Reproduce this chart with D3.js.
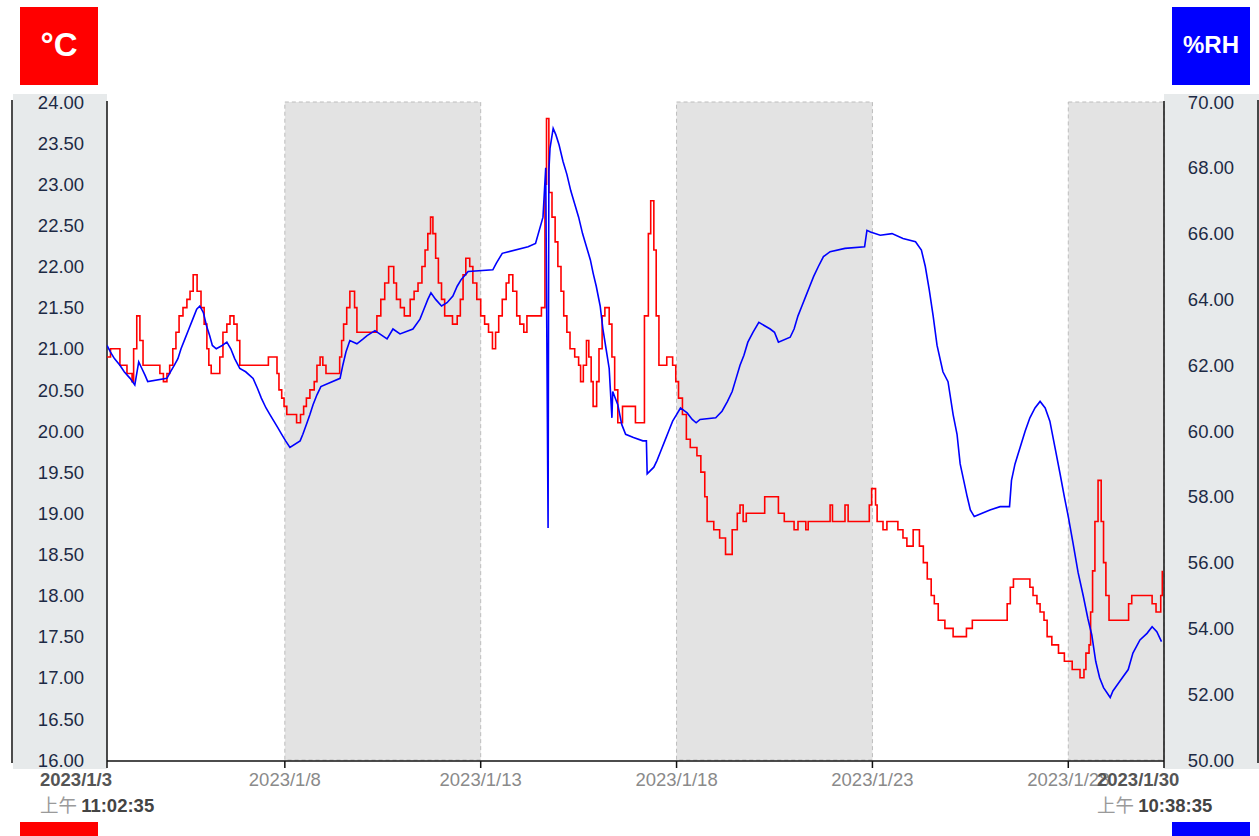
<!DOCTYPE html>
<html lang="zh">
<head>
<meta charset="UTF-8">
<title>Temperature / Humidity</title>
<script src="https://d3js.org/d3.v7.min.js"></script>
<style>
  body { margin: 0; background: #fff; }
  svg { display: block; font-family: Arial, "Liberation Sans", sans-serif; }
</style>
</head>
<body>
<svg id="chart"></svg>
<script>
// day-of-January (decimal) for each reading, and the reading
const tempDays = [3.46, 3.55, 3.79, 3.97, 4.10, 4.14, 4.22, 4.30, 4.38, 4.81, 4.90, 4.99, 5.06,
  5.14, 5.22, 5.30, 5.40, 5.50, 5.58, 5.66, 5.76, 5.86, 5.94, 6.01, 6.06, 6.12, 6.34, 6.42, 6.52,
  6.60, 6.70, 6.78, 6.85, 7.58, 7.80, 7.85, 7.92, 7.98, 8.05, 8.30, 8.40, 8.48, 8.55, 8.64, 8.75,
  8.82, 8.90, 8.97, 9.05, 9.40, 9.45, 9.50, 9.58, 9.66, 9.78, 9.84, 10.35, 10.45, 10.55, 10.65,
  10.78, 10.85, 10.95, 11.05, 11.20, 11.30, 11.40, 11.50, 11.58, 11.65, 11.72, 11.78, 11.85, 11.92,
  12.00, 12.08, 12.28, 12.40, 12.48, 12.55, 12.62, 12.72, 12.80, 12.90, 13.00, 13.10, 13.20, 13.30,
  13.38, 13.46, 13.55, 13.65, 13.72, 13.82, 13.92, 14.00, 14.10, 14.18, 14.55, 14.64, 14.68, 14.74,
  14.82, 14.90, 14.97, 15.05, 15.12, 15.20, 15.28, 15.40, 15.50, 15.55, 15.62, 15.70, 15.76, 15.82,
  15.87, 15.96, 16.02, 16.10, 16.17, 16.28, 16.35, 16.42, 16.50, 16.62, 16.95, 17.18, 17.28, 17.34,
  17.42, 17.48, 17.55, 17.75, 17.90, 17.98, 18.05, 18.15, 18.25, 18.35, 18.52, 18.62, 18.72, 18.78,
  18.95, 19.10, 19.25, 19.42, 19.55, 19.62, 19.70, 19.78, 20.25, 20.60, 20.75, 21.00, 21.10, 21.30,
  21.36, 21.92, 21.98, 22.30, 22.38, 22.92, 22.98, 23.08, 23.12, 23.27, 23.37, 23.65, 23.78, 23.88,
  24.04, 24.20, 24.30, 24.40, 24.50, 24.58, 24.68, 24.85, 25.06, 25.40, 25.55, 26.44, 26.52, 26.60,
  27.02, 27.10, 27.20, 27.28, 27.38, 27.46, 27.58, 27.75, 27.90, 28.10, 28.30, 28.40, 28.45, 28.53,
  28.57, 28.62, 28.68, 28.76, 28.84, 28.90, 28.96, 29.04, 29.54, 29.62, 30.14, 30.24, 30.36, 30.40];
const tempValues = [20.9, 21.0, 20.8, 20.7, 20.6, 21.0, 21.4, 21.1, 20.8, 20.7, 20.6, 20.7, 20.8,
  21.0, 21.2, 21.4, 21.5, 21.6, 21.7, 21.9, 21.7, 21.5, 21.3, 21.0, 20.8, 20.7, 20.9, 21.2, 21.3,
  21.4, 21.3, 21.1, 20.8, 20.9, 20.7, 20.5, 20.4, 20.3, 20.2, 20.1, 20.2, 20.3, 20.4, 20.5, 20.6,
  20.8, 20.9, 20.8, 20.7, 20.9, 21.1, 21.3, 21.5, 21.7, 21.5, 21.2, 21.4, 21.6, 21.8, 22.0,
  21.8, 21.6, 21.5, 21.4, 21.6, 21.7, 21.8, 22.0, 22.2, 22.4, 22.6, 22.4, 22.1, 21.8,
  21.6, 21.4, 21.3, 21.4, 21.6, 21.9, 22.1, 22.0, 21.8, 21.6, 21.4, 21.3, 21.2, 21.0,
  21.2, 21.4, 21.6, 21.8, 21.9, 21.7, 21.4, 21.3, 21.2, 21.4, 21.5, 23.0, 23.8, 22.9,
  22.6, 22.3, 22.0, 21.7, 21.4, 21.2, 21.0, 20.9, 20.8, 20.6, 20.8, 21.1, 20.9, 20.6,
  20.3, 20.6, 21.0, 21.4, 21.5, 21.3, 20.9, 20.5, 20.1, 20.3, 20.1, 21.4, 22.4, 22.8,
  22.2, 21.4, 20.8, 20.9, 20.8, 20.6, 20.4, 20.2, 19.9, 19.8, 19.7, 19.5, 19.2, 18.9,
  18.8, 18.7, 18.5, 18.8, 19.0, 19.1, 18.9, 19.0, 19.2, 19.0, 18.9, 18.8, 18.9, 18.8,
  18.9, 19.1, 18.9, 19.1, 18.9, 19.1, 19.3, 19.1, 18.9, 18.8, 18.9, 18.8, 18.7, 18.6,
  18.8, 18.6, 18.4, 18.2, 18.0, 17.9, 17.7, 17.6, 17.5, 17.6, 17.7, 17.9, 18.1, 18.2,
  18.1, 18.0, 17.9, 17.8, 17.7, 17.5, 17.4, 17.3, 17.2, 17.1, 17.0, 17.1, 17.3, 17.4,
  17.8, 18.3, 18.9, 19.4, 18.9, 18.4, 18.0, 17.7, 17.9, 18.0, 17.9, 17.8, 18.0, 18.3];

const humDays = [3.46, 3.55, 3.65, 3.79, 3.90, 4.05, 4.17, 4.27, 4.35, 4.43, 4.50, 4.99, 5.08,
  5.18, 5.27, 5.35, 5.45, 5.55, 5.65, 5.75, 5.83, 5.92, 6.00, 6.08, 6.15, 6.25, 6.40, 6.52, 6.62,
  6.72, 6.85, 7.00, 7.19, 7.30, 7.40, 7.52, 7.62, 7.72, 7.82, 7.92, 8.02, 8.13, 8.39, 8.46, 8.55,
  8.64, 8.72, 8.82, 8.92, 9.41, 9.48, 9.56, 9.66, 9.84, 10.00, 10.10, 10.30, 10.61, 10.76, 10.94,
  11.27, 11.45, 11.55, 11.65, 11.73, 11.85, 12.00, 12.14, 12.29, 12.40, 12.50, 12.68, 13.31, 13.40,
  13.55, 14.21, 14.40, 14.59, 14.66, 14.72, 14.74, 14.77, 14.85, 14.92, 15.00, 15.10, 15.20, 15.30,
  15.40, 15.50, 15.60, 15.70, 15.80, 15.87, 15.95, 16.05, 16.12, 16.20, 16.28, 16.35, 16.37, 16.50,
  16.60, 16.70, 16.90, 17.14, 17.23, 17.25, 17.42, 17.50, 17.60, 17.70, 17.80, 17.90, 18.00, 18.10,
  18.27, 18.40, 18.50, 18.60, 19.00, 19.16, 19.30, 19.42, 19.52, 19.62, 19.72, 19.82, 19.95, 20.10,
  20.39, 20.50, 20.60, 20.90, 21.00, 21.10, 21.20, 21.30, 21.40, 21.50, 21.62, 21.75, 21.92, 22.30,
  22.80, 22.86, 22.95, 23.20, 23.50, 23.78, 24.10, 24.25, 24.35, 24.45, 24.55, 24.65, 24.80, 24.93,
  25.06, 25.16, 25.24, 25.33, 25.42, 25.50, 25.60, 25.80, 26.00, 26.26, 26.50, 26.55, 26.64, 26.77,
  26.90, 27.02, 27.15, 27.28, 27.41, 27.53, 27.66, 27.79, 27.90, 28.00, 28.12, 28.25, 28.38, 28.50,
  28.60, 28.70, 28.80, 28.90, 29.07, 29.14, 29.32, 29.53, 29.65, 29.83, 30.01, 30.14, 30.26, 30.38];
const humValues = [62.6, 62.4, 62.2, 62.0, 61.8, 61.6, 61.4, 62.1, 61.9, 61.7, 61.5, 61.6, 61.8,
  62.0, 62.2, 62.5, 62.8, 63.1, 63.4, 63.7, 63.8, 63.6, 63.2, 62.9, 62.6, 62.5, 62.6, 62.7, 62.5,
  62.2, 61.9, 61.8, 61.6, 61.3, 61.0, 60.7, 60.5, 60.3, 60.1, 59.9, 59.7, 59.5, 59.7, 59.9, 60.2,
  60.5, 60.8, 61.1, 61.35, 61.6, 62.0, 62.4, 62.75, 62.65, 62.8, 62.9, 63.05, 62.8, 63.1, 62.95,
  63.1, 63.4, 63.7, 64.0, 64.2, 64.0, 63.8, 63.9, 64.1, 64.4, 64.6, 64.85, 64.9, 65.1,
  65.4, 65.6, 65.7, 66.5, 68.0, 57.05, 67.9, 68.6, 69.2, 69.0, 68.7, 68.2, 67.8, 67.3,
  66.9, 66.5, 66.0, 65.6, 65.2, 64.8, 64.4, 63.8, 63.1, 62.5, 61.9, 60.4, 61.2, 60.8,
  60.2, 59.9, 59.8, 59.7, 59.7, 58.7, 58.9, 59.1, 59.4, 59.7, 60.0, 60.3, 60.5, 60.7,
  60.55, 60.35, 60.25, 60.35, 60.4, 60.6, 60.9, 61.2, 61.6, 62.0, 62.3, 62.7, 63.0, 63.3,
  63.1, 63.0, 62.7, 62.85, 63.1, 63.5, 63.8, 64.1, 64.4, 64.7, 65.0, 65.3, 65.45, 65.55,
  65.6, 66.1, 66.05, 65.95, 66.0, 65.85, 65.75, 65.5, 65.0, 64.3, 63.5, 62.6, 61.8, 61.5,
  60.5, 59.9, 59.0, 58.5, 58.0, 57.6, 57.4, 57.5, 57.6, 57.7, 57.7, 58.5, 59.0, 59.5,
  60.0, 60.4, 60.7, 60.9, 60.7, 60.3, 59.5, 58.7, 58.0, 57.4, 56.6, 55.7, 55.0, 54.3,
  53.8, 53.0, 52.5, 52.2, 51.9, 52.1, 52.4, 52.75, 53.25, 53.65, 53.85, 54.05, 53.9, 53.6];

const tempTicks = d3.range(16, 24.01, 0.5);
const humTicks = d3.range(50, 70.01, 2);
const dateTickDays = [8, 13, 18, 23, 28];
const weekendStartDays = [8, 18, 28];

const start = new Date(2023, 0, 3, 11, 2, 35);
const end = new Date(2023, 0, 30, 10, 38, 35);
const dayToDate = d => new Date(new Date(2023, 0, 1).getTime() + (d - 1) * 864e5);

const width = 1259, height = 836;
const mLeft = 107, mRight = 1164, mTop = 102, mBottom = 760;
const fs = 18.5;

const svg = d3.select("#chart").attr("width", width).attr("height", height);

const x = d3.scaleTime().domain([start, end]).range([mLeft, mRight]);
const yT = d3.scaleLinear().domain([16, 24]).range([mBottom, mTop]);
const yH = d3.scaleLinear().domain([50, 70]).range([mBottom, mTop]);

// axis side panels
svg.append("rect").attr("x", 13).attr("y", 94).attr("width", mLeft - 13).attr("height", 675).attr("fill", "#e7eaeb");
svg.append("rect").attr("x", mRight).attr("y", 94).attr("width", width - mRight).attr("height", 675).attr("fill", "#e7eaeb");

// weekend bands
weekendStartDays.forEach(d => {
  const x0 = x(dayToDate(d));
  const x1 = Math.min(x(dayToDate(d + 5)), mRight);
  svg.append("rect").attr("x", x0).attr("y", mTop).attr("width", x1 - x0).attr("height", mBottom - mTop)
    .attr("fill", "#e3e3e3").attr("stroke", "#bdbdbd").attr("stroke-dasharray", "4,3");
});

// frame lines
const frame = [[12, 100, 12, 763], [mLeft, mTop - 1, mLeft, 768], [mRight, mTop - 1, mRight, 768],
  [width - 1, 100, width - 1, 763], [mLeft, mBottom + 1, mRight, mBottom + 1]];
svg.selectAll("line.frame").data(frame).join("line").attr("class", "frame")
  .attr("x1", d => d[0]).attr("y1", d => d[1]).attr("x2", d => d[2]).attr("y2", d => d[3])
  .attr("stroke", "#111").attr("stroke-width", 1.5);

// date ticks
dateTickDays.forEach(d => {
  const xp = x(dayToDate(d));
  svg.append("line").attr("x1", xp).attr("x2", xp).attr("y1", mBottom + 1).attr("y2", 768)
    .attr("stroke", "#111").attr("stroke-width", 1.5);
  svg.append("text").attr("x", xp).attr("y", 786).attr("text-anchor", "middle")
    .attr("font-size", fs).attr("fill", "#8a8a8a").text(d3.timeFormat("%Y/%-m/%-d")(dayToDate(d)));
});

// start / end labels
[[start, x(start) - 67], [end, x(end) - 67]].forEach(([dt, xp]) => {
  svg.append("text").attr("x", xp).attr("y", 786).attr("font-size", fs).attr("font-weight", "bold")
    .attr("fill", "#555").text(d3.timeFormat("%Y/%-m/%-d")(dt));
  const t = svg.append("text").attr("x", xp).attr("y", 812).attr("font-size", fs);
  t.append("tspan").attr("fill", "#9a9a9a").attr("font-family", "'Noto Sans CJK TC', sans-serif").text("上午 ");
  t.append("tspan").attr("fill", "#444").attr("font-weight", "bold").text(d3.timeFormat("%I:%M:%S")(dt));
});

// y tick labels
svg.selectAll("text.tl").data(tempTicks).join("text").attr("class", "tl")
  .attr("x", 61).attr("y", d => yT(d)).attr("dy", "0.36em").attr("text-anchor", "middle")
  .attr("font-size", fs).attr("fill", "#1d2a45").text(d => d.toFixed(2));
svg.selectAll("text.hl").data(humTicks).join("text").attr("class", "hl")
  .attr("x", 1211).attr("y", d => yH(d)).attr("dy", "0.36em").attr("text-anchor", "middle")
  .attr("font-size", fs).attr("fill", "#1d2a45").text(d => d.toFixed(2));

// unit boxes
svg.append("rect").attr("x", 20).attr("y", 7).attr("width", 78).attr("height", 78).attr("fill", "#ff0000");
svg.append("text").attr("x", 59).attr("y", 44).attr("dy", "0.36em").attr("text-anchor", "middle")
  .attr("font-size", 33).attr("font-weight", "bold").attr("fill", "#fff").text("°C");
svg.append("rect").attr("x", 1172).attr("y", 7).attr("width", 78).attr("height", 78).attr("fill", "#0000ff");
svg.append("text").attr("x", 1211).attr("y", 44).attr("dy", "0.36em").attr("text-anchor", "middle")
  .attr("font-size", 24).attr("font-weight", "bold").attr("fill", "#fff").text("%RH");
svg.append("rect").attr("x", 20).attr("y", 822).attr("width", 78).attr("height", 20).attr("fill", "#ff0000");
svg.append("rect").attr("x", 1172).attr("y", 822).attr("width", 78).attr("height", 20).attr("fill", "#0000ff");

// series
svg.append("clipPath").attr("id", "plot").append("rect")
  .attr("x", mLeft).attr("y", mTop - 2).attr("width", mRight - mLeft).attr("height", mBottom - mTop + 4);

const tempData = tempDays.map((d, i) => [dayToDate(d), tempValues[i]]);
const humData = humDays.map((d, i) => [dayToDate(d), humValues[i]]);

const g = svg.append("g").attr("clip-path", "url(#plot)");
g.append("path").datum(tempData).attr("fill", "none").attr("stroke", "#ff0000").attr("stroke-width", 1.6)
  .attr("d", d3.line().curve(d3.curveStepAfter).x(d => x(d[0])).y(d => yT(d[1])));
g.append("path").datum(humData).attr("fill", "none").attr("stroke", "#0000ff").attr("stroke-width", 1.6)
  .attr("d", d3.line().x(d => x(d[0])).y(d => yH(d[1])));
</script>
</body>
</html>
